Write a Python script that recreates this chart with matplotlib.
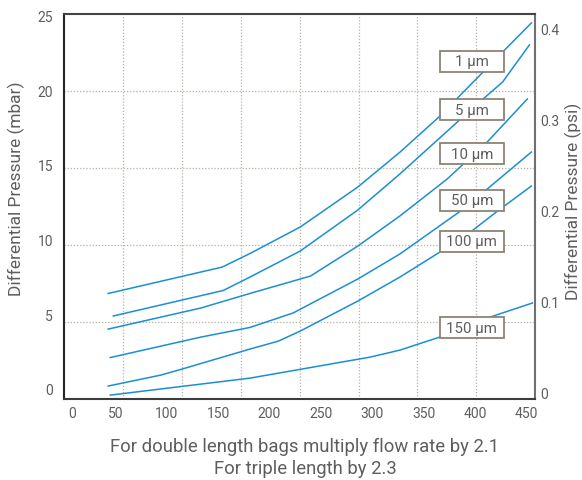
import matplotlib
matplotlib.use("Agg")
import matplotlib.pyplot as plt
import matplotlib.transforms as mtransforms
from matplotlib.patches import Rectangle
import numpy as np

plt.rcParams["font.family"] = ["Roboto", "DejaVu Sans"]

# flow rate (x) and differential pressure in mbar (y)
X_1UM = [43, 154, 181, 230, 286, 327, 366, 386, 407, 428, 455]
Y_1UM = [6.38, 8.15, 9.06, 10.84, 13.52, 15.86, 18.28, 19.70, 21.17, 22.65, 24.53]
X_5UM = [48, 155, 181, 230, 286, 327, 384, 408, 427, 453]
Y_5UM = [4.87, 6.58, 7.48, 9.23, 11.98, 14.40, 17.95, 19.43, 20.57, 23.05]
X_10UM = [43, 133, 181, 240, 286, 327, 373, 412, 451]
Y_10UM = [3.99, 5.40, 6.38, 7.55, 9.56, 11.58, 14.06, 16.54, 19.43]
X_50UM = [45, 133, 181, 223, 286, 327, 386, 412, 455]
Y_50UM = [2.08, 3.45, 4.10, 5.07, 7.35, 9.03, 11.91, 13.39, 15.87]
X_100UM = [43, 94, 115, 181, 209, 230, 286, 327, 366, 397, 422, 455]
Y_100UM = [0.17, 0.90, 1.31, 2.65, 3.19, 3.86, 5.87, 7.48, 9.16, 10.57, 11.91, 13.59]
X_150UM = [45, 181, 298, 327, 366, 418, 456]
Y_150UM = [-0.44, 0.70, 2.11, 2.58, 3.46, 4.87, 5.74]

SERIES = [
    ("1 µm", X_1UM, Y_1UM),
    ("5 µm", X_5UM, Y_5UM),
    ("10 µm", X_10UM, Y_10UM),
    ("50 µm", X_50UM, Y_50UM),
    ("100 µm", X_100UM, Y_100UM),
    ("150 µm", X_150UM, Y_150UM),
]
LABEL_X = 397
LABEL_Y = [21.95, 18.72, 15.77, 12.65, 9.87, 4.09]

X_TICKS = [0, 50, 100, 150, 200, 250, 300, 350, 400, 450]
Y_TICKS = [0, 5, 10, 15, 20, 25]
PSI_TICKS = [0, 0.1, 0.2, 0.3, 0.4]
PSI_LABELS = ["0", "0.1", "0.2", "0.3", "0.4"]

LINE = "#1b8fd2"
TEXT = "#5e5e60"
GRID = "#b8b1a6"
BOX = "#8c8374"

fig = plt.figure(figsize=(5.82, 4.81), dpi=100)
ax = fig.add_axes([64 / 582, 81 / 481, 471 / 582, 385 / 481])
xlim = (0.5, 458.5)
ylim = (-0.70, 25.13)
ax.set_xlim(*xlim)
ax.set_ylim(*ylim)

# the grid does not follow the tick labels: 8 x 5 equal cells
for gx in np.linspace(*xlim, 9)[1:-1]:
    ax.axvline(gx, color=GRID, lw=0.9, ls=(0, (1, 1.5)), zorder=0)
for gy in np.linspace(*ylim, 6)[1:-1]:
    ax.axhline(gy, color=GRID, lw=0.9, ls=(0, (1, 1.5)), zorder=0)

for name, xs, ys in SERIES:
    ax.plot(xs, ys, color=LINE, lw=1.1, zorder=2)

bw, bh = 62.2, 1.41
for (name, _, _), ly in zip(SERIES, LABEL_Y):
    ax.add_patch(Rectangle((LABEL_X - bw / 2, ly - bh / 2), bw, bh, facecolor="white",
                           edgecolor=BOX, lw=1.3, zorder=3))
    ax.text(LABEL_X, ly, name, ha="center", va="center", fontsize=10.8, color=TEXT, zorder=4)

ax.set_xticks(X_TICKS)
ax.set_xticklabels([str(t) for t in X_TICKS])
ax.set_yticks(Y_TICKS)
ax.set_yticklabels([str(t) for t in Y_TICKS])
ax.tick_params(length=0, labelsize=10, labelcolor=TEXT)
ax.tick_params(axis="x", pad=5)
ax.tick_params(axis="y", pad=8)
lbl0 = ax.get_xticklabels()[0]
lbl0.set_transform(lbl0.get_transform() + mtransforms.ScaledTranslation(8 / 100, 0, fig.dpi_scale_trans))

spine_colors = {"left": "#262626", "bottom": "#3c3c3c", "top": "#444444", "right": "#707070"}
for side, sp in ax.spines.items():
    sp.set_color(spine_colors[side])
    sp.set_linewidth(1.5)

ax2 = ax.twinx()
ax2.set_ylim(-0.0077, 0.4163)
ax2.set_yticks(PSI_TICKS)
ax2.set_yticklabels(PSI_LABELS)
ax2.tick_params(length=0, labelsize=10, labelcolor=TEXT, pad=4)
for sp in ax2.spines.values():
    sp.set_visible(False)

fig.text(16 / 582, 1 - 189 / 481, "Differential Pressure (mbar)", rotation=90,
         ha="center", va="center", fontsize=12.5, color=TEXT)
fig.text(573 / 582, 1 - 201 / 481, "Differential Pressure (psi)", rotation=90,
         ha="center", va="center", fontsize=12.5, color=TEXT)

fig.text(305 / 582, 1 - 447 / 481, "For double length bags multiply flow rate by 2.1",
         ha="center", va="center", fontsize=13.3, color=TEXT)
fig.text(305 / 582, 1 - 469 / 481, "For triple length by 2.3",
         ha="center", va="center", fontsize=13.3, color=TEXT)

fig.savefig("out.png", dpi=100)
